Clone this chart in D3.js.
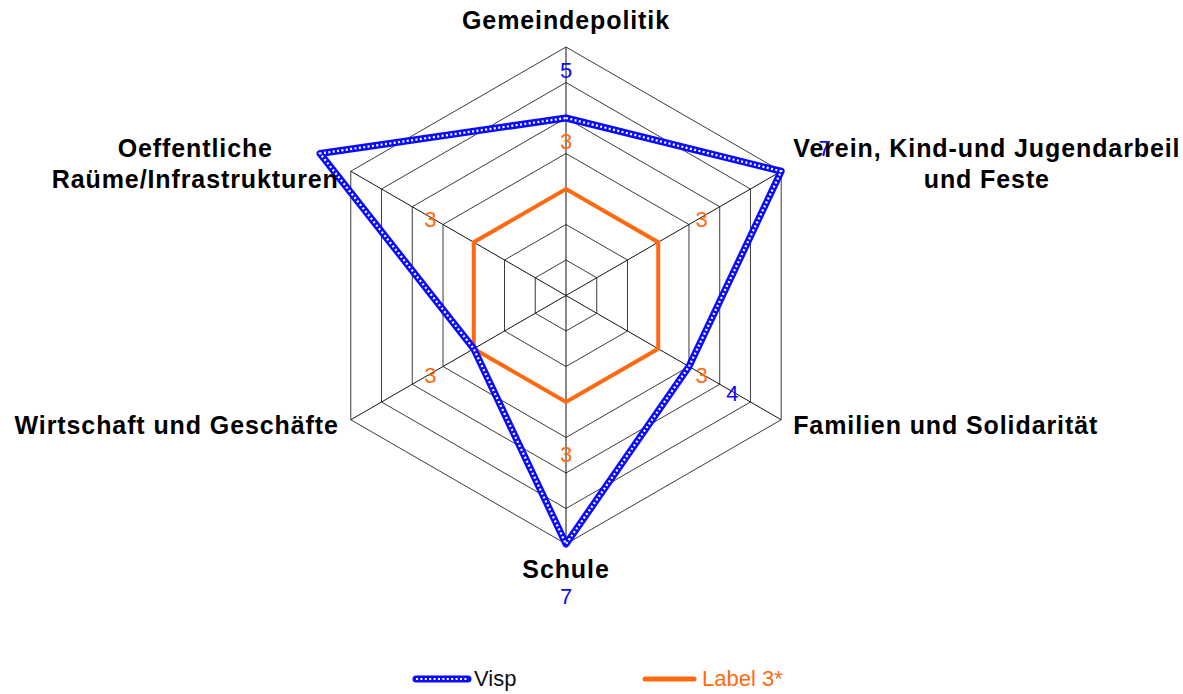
<!DOCTYPE html>
<html>
<head>
<meta charset="utf-8">
<script src="https://cdn.jsdelivr.net/npm/d3@7"></script>
<style>
  body { margin: 0; background: #fff; }
  text { font-family: "Liberation Sans", Arial, sans-serif; }
</style>
</head>
<body>
<div id="chart"></div>
<script>
// Daten
const categories = [
  "Gemeindepolitik",
  "Verein, Kind-und Jugendarbeil\nund Feste",
  "Familien und Solidarität",
  "Schule",
  "Wirtschaft und Geschäfte",
  "Oeffentliche\nRaüme/Infrastrukturen"
];
const vispValues = [5, 7, 4, 7, 3, 8];
const label3Values = [3, 3, 3, 3, 3, 3];
// Welche Datenbeschriftungen im Original sichtbar sind
const vispLabelShown = [true, true, true, true, false, false];
const label3LabelShown = [true, true, true, true, true, true];
const gridLevels = [1, 2, 3, 4, 5, 6, 7];
const seriesNames = ["Visp", "Label 3*"];

const width = 1183, height = 694;
const cx = 566, cy = 295.5, radius = 248.5;
const blue = "#0a0aff", orange = "#ff6a10";

const svg = d3.select("#chart").append("svg")
  .attr("width", width)
  .attr("height", height);

const r = d3.scaleLinear().domain([0, 7]).range([0, radius]);
const angle = i => (Math.PI * 2 / categories.length) * i; // 0 = oben

const pt = (i, v) => [cx + r(v) * Math.sin(angle(i)), cy - r(v) * Math.cos(angle(i))];

// Gitter
const grid = svg.append("g");
gridLevels.forEach(lv => {
  grid.append("polygon")
    .attr("points", categories.map((c, i) => pt(i, lv).join(",")).join(" "))
    .attr("fill", "none")
    .attr("stroke", "#3c3c3c")
    .attr("stroke-width", 1);
});
categories.forEach((c, i) => {
  const [x, y] = pt(i, 7);
  grid.append("line")
    .attr("x1", cx).attr("y1", cy).attr("x2", x).attr("y2", y)
    .attr("stroke", "#111").attr("stroke-width", 1);
});

const line = d3.line().curve(d3.curveLinearClosed);

// Label 3*
svg.append("path")
  .datum(label3Values.map((v, i) => pt(i, v)))
  .attr("d", line)
  .attr("fill", "none")
  .attr("stroke", orange)
  .attr("stroke-width", 4)
  .attr("stroke-linejoin", "miter");

// Visp (blau mit weissen Punkten)
const vispPts = vispValues.map((v, i) => pt(i, v));
svg.append("path")
  .datum(vispPts)
  .attr("d", line)
  .attr("fill", "none")
  .attr("stroke", blue)
  .attr("stroke-width", 7)
  .attr("stroke-linejoin", "round");
svg.append("path")
  .datum(vispPts)
  .attr("d", line)
  .attr("fill", "none")
  .attr("stroke", "#fff")
  .attr("stroke-width", 2.2)
  .attr("stroke-dasharray", "2,2.4");

// Datenbeschriftungen
function dataLabels(values, shown, color) {
  values.forEach((v, i) => {
    if (!shown[i]) return;
    const d = r(v) + 50;
    svg.append("text")
      .attr("x", cx + d * Math.sin(angle(i)))
      .attr("y", cy - d * Math.cos(angle(i)) + 2)
      .attr("text-anchor", "middle")
      .attr("dominant-baseline", "central")
      .attr("font-size", 22)
      .attr("fill", color)
      .text(v);
  });
}
dataLabels(vispValues, vispLabelShown, blue);
dataLabels(label3Values, label3LabelShown, orange);

// Kategorienbeschriftungen
categories.forEach((c, i) => {
  const [vx, vy] = pt(i, 7);
  const lines = c.split("\n");
  const s = Math.sin(angle(i));
  const t = svg.append("text")
    .attr("font-size", 25)
    .attr("font-weight", "bold")
    .attr("letter-spacing", 0.9)
    .attr("fill", "#000")
    .attr("text-anchor", "middle");
  let x, y;
  if (Math.abs(s) < 0.01) {
    x = vx;
    y = vy < cy ? vy - 18 : vy + 34;
  }
  lines.forEach((ln, k) => {
    t.append("tspan").attr("data-k", k).text(ln);
  });
  // Breite des Blocks messen, um links/rechts auszurichten
  const spans = t.selectAll("tspan");
  const w = d3.max(spans.nodes(), n => n.getComputedTextLength());
  if (Math.abs(s) >= 0.01) {
    x = s > 0 ? vx + 12 + w / 2 : vx - 12 - w / 2;
    y = lines.length > 1 ? vy - 14 : vy + 14;
  }
  spans.attr("x", x).attr("y", (d, k) => y + k * 31);
});

// Legende
const legend = svg.append("g");
legend.append("line")
  .attr("x1", 416).attr("x2", 468).attr("y1", 679).attr("y2", 679)
  .attr("stroke", blue).attr("stroke-width", 7).attr("stroke-linecap", "round");
legend.append("line")
  .attr("x1", 416).attr("x2", 468).attr("y1", 679).attr("y2", 679)
  .attr("stroke", "#fff").attr("stroke-width", 2.2).attr("stroke-dasharray", "2,2.4");
legend.append("text")
  .attr("x", 474).attr("y", 686)
  .attr("font-size", 22).attr("fill", "#111")
  .text(seriesNames[0]);
legend.append("line")
  .attr("x1", 645).attr("x2", 694).attr("y1", 679).attr("y2", 679)
  .attr("stroke", orange).attr("stroke-width", 5).attr("stroke-linecap", "round");
legend.append("text")
  .attr("x", 702).attr("y", 686)
  .attr("font-size", 22).attr("fill", orange)
  .text(seriesNames[1]);
</script>
</body>
</html>
